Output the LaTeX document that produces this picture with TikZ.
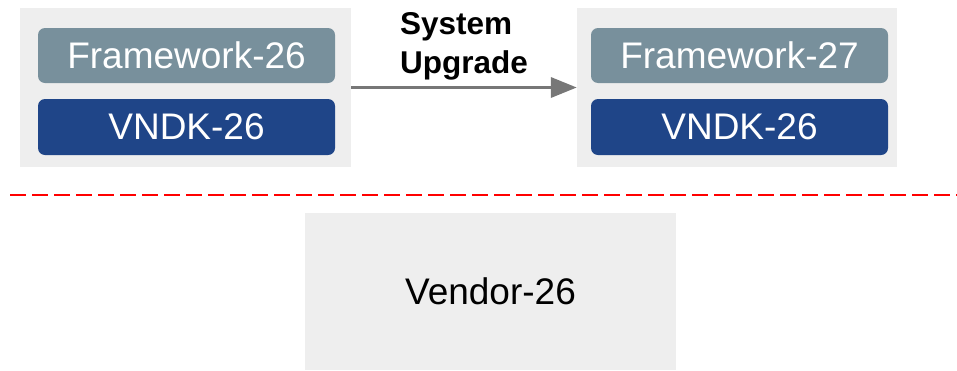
\documentclass[tikz,border=0pt]{standalone}
\usepackage{fontspec}
\setmainfont{Liberation Sans}
\usetikzlibrary{arrows.meta}

\definecolor{layergray}{HTML}{EEEEEE}
\definecolor{fwgray}{HTML}{78909C}
\definecolor{vndkblue}{HTML}{1F4588}
\definecolor{arrowgray}{HTML}{777777}

\begin{document}
\begin{tikzpicture}[x=1pt, y=-1pt,
    layer/.style={fill=layergray, minimum height=159pt},
    part/.style={rounded corners=7pt, text=white, minimum width=297pt,
        minimum height=55pt, font=\fontsize{37}{44}\selectfont},
    fw/.style={part, fill=fwgray},
    vndk/.style={part, fill=vndkblue, minimum height=56pt},
    upgrade/.style={draw=arrowgray, line width=3.5pt,
        -{Triangle[length=26pt, width=20pt]}},
    split/.style={draw=red, line width=2.5pt, dash pattern=on 16pt off 6pt}]
    \useasboundingbox (0,0) rectangle (957,370);

    \node[layer, minimum width=331pt](Sys_old) at (185.5, 87.5) {};
    \node[layer, minimum width=320pt](Sys_new) at (737, 87.5) {};

    \node[fw](FW_26) at (186.5, 55.5) {Framework-26};
    \node[vndk](VNDK_1) at (186.5, 127) {VNDK-26};
    \node[fw](FW_27) at (739.5, 55.5) {Framework-27};
    \node[vndk](VNDK_2) at (739.5, 127) {VNDK-26};

    \path[upgrade] (Sys_old) -- node [above=4pt, inner sep=2pt, align=left,
        font=\fontsize{31.5}{38.5}\selectfont\bfseries] {System\\Upgrade}(Sys_new);

    \coordinate (Split_l) at (10, 195);
    \coordinate (Split_r) at (960, 195);
    \path[split] (Split_l) -- (Split_r);

    \node[fill=layergray, minimum width=371pt, minimum height=157pt,
        font=\fontsize{37}{44}\selectfont](Vendor) at (490.5, 291.5) {Vendor-26};
\end{tikzpicture}
\end{document}
